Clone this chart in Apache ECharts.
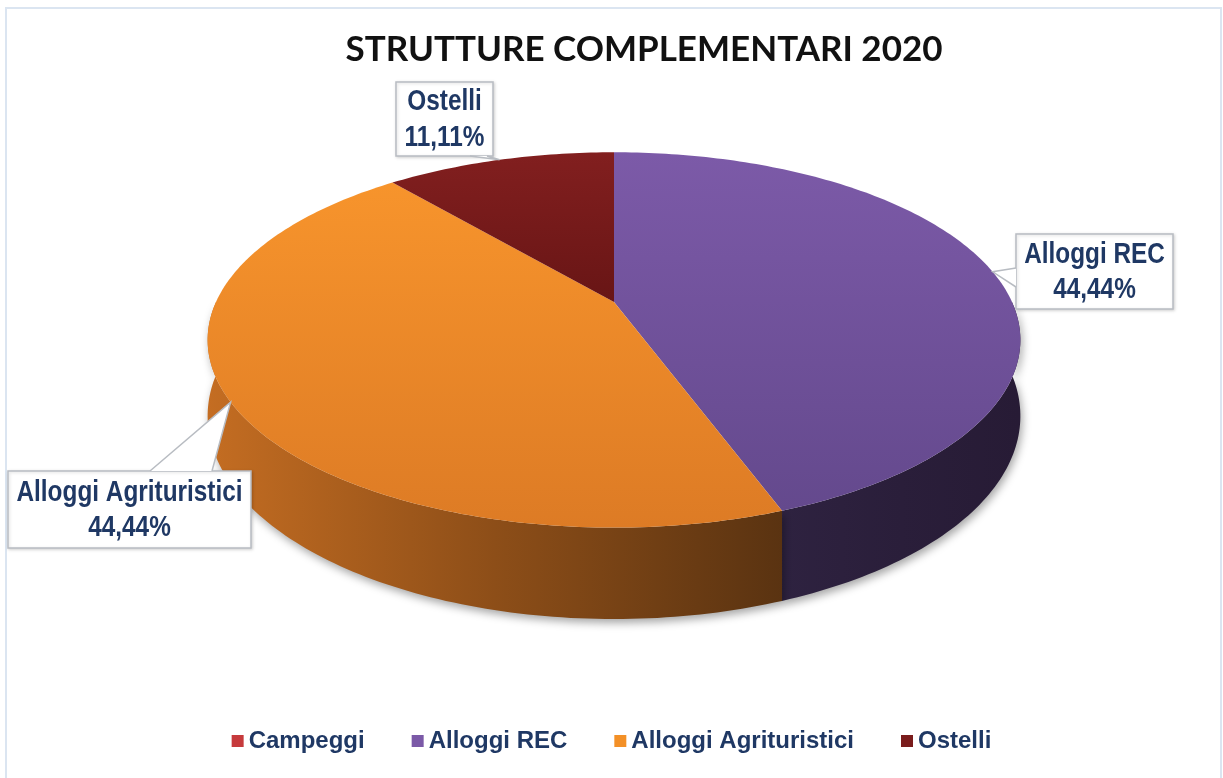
<!DOCTYPE html>
<html>
<head>
<meta charset="utf-8">
<script src="https://cdn.jsdelivr.net/npm/echarts@6/dist/echarts.min.js"></script>
<style>
html,body{margin:0;padding:0;background:#fff;}
#chart{width:1223px;height:778px;}
</style>
</head>
<body>
<div id="chart"></div>
<script>
// ---- data ----
const titleText = 'STRUTTURE COMPLEMENTARI 2020';
const categories = ['Campeggi', 'Alloggi REC', 'Alloggi Agrituristici', 'Ostelli'];
const values = [0, 4, 4, 1];

// ---- styles / layout ----
const legendColors = ['#c63a3c', '#7b59a7', '#f39027', '#7a1c1c'];
const topGrad = [
  ['#d04244', '#a82c2e'],
  ['#7c5aa8', '#64498d'],
  ['#f7942c', '#dd7b25'],
  ['#821f1f', '#681515']
];
const sideGrad = [
  ['#7a2020', '#5a1515', '#4a1010'],
  ['#2e2240', '#2a1e3a', '#271b35'],
  ['#c46d22', '#8d4e18', '#5a3311'],
  ['#4a1010', '#3a0c0c', '#300a0a']
];
const G = { cx: 614, cy: 302, rx: 398, ry: 180, k: 0.202, depth: 73 };
const labelBoxes = {
  'Alloggi REC':           { x: 1016, y: 234, w: 157, h: 75, side: 'left',   base: [268, 287] },
  'Alloggi Agrituristici': { x: 8,    y: 471, w: 243, h: 77, side: 'top',    base: [150, 212] },
  'Ostelli':               { x: 396,  y: 82,  w: 97,  h: 74, side: 'bottom', base: [470, 487] }
};
const textColor = '#1f3864';
const labelFont = '"Liberation Sans", Arial, sans-serif';

// ---- geometry helpers ----
const total = values.reduce((a, b) => a + b, 0);
const starts = [];
(function () { let acc = 0; for (let i = 0; i < values.length; i++) { starts.push(acc / total * 360); acc += values[i]; } })();
function spanOf(i) { return [starts[i], starts[i] + values[i] / total * 360]; }
function proj(deg, drop) {
  const t = deg * Math.PI / 180;
  const u = Math.sin(t), v = -Math.cos(t);
  const s = 1 / (1 - G.k * v);
  return [G.cx + G.rx * u * s, G.cy + G.ry * v * s + drop * s];
}
function arc(a0, a1, drop) {
  const pts = [];
  const n = Math.max(2, Math.ceil((a1 - a0) / 1));
  for (let j = 0; j <= n; j++) pts.push(proj(a0 + (a1 - a0) * j / n, drop));
  return pts;
}
function pctText(v) { return (v / total * 100).toFixed(2).replace('.', ',') + '%'; }

const series = [];
// top faces, one series per category (legend entries)
categories.forEach(function (name, i) {
  series.push({
    type: 'custom',
    name: name,
    coordinateSystem: 'none',
    z: 3,
    silent: true,
    itemStyle: { color: legendColors[i] },
    data: [[values[i]]],
    renderItem: function () {
      if (!values[i]) return { type: 'group', children: [] };
      const [a0, a1] = spanOf(i);
      const pts = [[G.cx, G.cy]].concat(arc(a0, a1, 0));
      return {
        type: 'polygon',
        shape: { points: pts },
        style: {
          fill: { type: 'linear', x: 0, y: 0, x2: 0, y2: 1,
            colorStops: [{ offset: 0, color: topGrad[i][0] }, { offset: 1, color: topGrad[i][1] }] },
          stroke: null
        }
      };
    }
  });
});
// side faces
series.push({
  type: 'custom',
  name: 'sides',
  coordinateSystem: 'none',
  z: 2,
  silent: true,
  data: categories.map(function (c, i) { return [i, values[i]]; }),
  renderItem: function (params) {
    const i = params.dataIndex;
    if (!values[i]) return { type: 'group', children: [] };
    const [a0, a1] = spanOf(i);
    const b0 = Math.max(a0, 90), b1 = Math.min(a1, 270);
    if (b1 <= b0) return { type: 'group', children: [] };
    const pts = arc(b0, b1, 0).concat(arc(b0, b1, G.depth).reverse());
    return {
      type: 'polygon',
      shape: { points: pts },
      style: {
        fill: { type: 'linear', x: 0, y: 0, x2: 1, y2: 0,
          colorStops: [{ offset: 0, color: sideGrad[i][0] }, { offset: 0.5, color: sideGrad[i][1] }, { offset: 1, color: sideGrad[i][2] }] },
        stroke: null,
        shadowBlur: 8,
        shadowOffsetX: 2,
        shadowOffsetY: 4,
        shadowColor: 'rgba(0,0,0,0.35)'
      }
    };
  }
});
// callout labels
series.push({
  type: 'custom',
  name: 'labels',
  coordinateSystem: 'none',
  z: 5,
  silent: true,
  data: categories.map(function (c, i) { return [i, values[i]]; }),
  renderItem: function (params) {
    const i = params.dataIndex;
    const name = categories[i];
    const b = labelBoxes[name];
    if (!values[i] || !b) return { type: 'group', children: [] };
    const [a0, a1] = spanOf(i);
    const tip = proj((a0 + a1) / 2, 0);
    let p1, p2;
    if (b.side === 'left') { p1 = [b.x, b.base[0]]; p2 = [b.x, b.base[1]]; }
    else if (b.side === 'top') { p1 = [b.base[0], b.y]; p2 = [b.base[1], b.y]; }
    else { p1 = [b.base[0], b.y + b.h]; p2 = [b.base[1], b.y + b.h]; }
    const border = '#b8bcc2';
    return {
      type: 'group',
      children: [
        { type: 'rect', shape: { x: b.x, y: b.y, width: b.w, height: b.h },
          style: { fill: '#ffffff', stroke: border, lineWidth: 1.5,
                   shadowBlur: 3, shadowColor: 'rgba(0,0,0,0.15)', shadowOffsetX: 1, shadowOffsetY: 1 } },
        { type: 'polygon', shape: { points: [p1, tip, p2] },
          style: { fill: '#ffffff', stroke: null } },
        { type: 'polyline', shape: { points: [p1, tip, p2] },
          style: { fill: null, stroke: border, lineWidth: 1.5 } },
        { type: 'text',
          x: b.x + b.w / 2, y: b.y + b.h / 2 + 1, scaleX: 0.87, scaleY: 1.04,
          style: { x: 0, y: 0, text: name + '\n' + pctText(values[i]),
                   fill: textColor, font: 'bold 28px ' + labelFont, lineHeight: 34,
                   align: 'center', verticalAlign: 'middle' } }
      ]
    };
  }
});

const chart = echarts.init(document.getElementById('chart'), null, { renderer: 'canvas' });
chart.setOption({
  backgroundColor: '#ffffff',
  animation: false,
  title: {
    text: titleText,
    left: 639, top: 27,
    textAlign: 'center',
    textStyle: { fontFamily: 'Lato, "Open Sans", sans-serif', fontWeight: 'bold', fontSize: 35, color: '#111111' }
  },
  legend: {
    data: categories,
    bottom: 20,
    left: 'center',
    icon: 'rect',
    itemWidth: 12,
    itemHeight: 12,
    itemGap: 47,
    selectedMode: false,
    textStyle: { color: textColor, fontFamily: labelFont, fontWeight: 'bold', fontSize: 24 }
  },
  graphic: [{
    type: 'rect', silent: true, z: 0,
    shape: { x: 6, y: 8, width: 1215, height: 780 },
    style: { fill: null, stroke: '#dbe5f1', lineWidth: 2 }
  }],
  series: series
});
</script>
</body>
</html>
